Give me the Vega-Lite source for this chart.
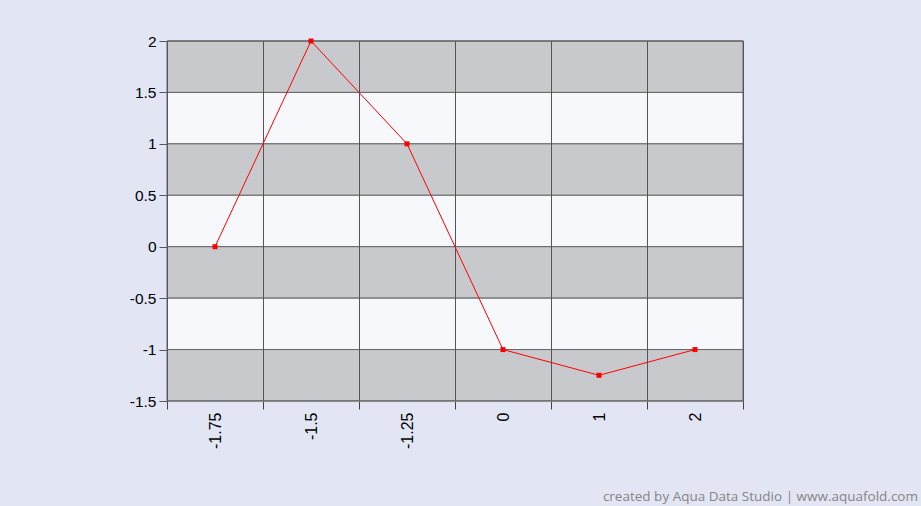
{
  "$schema": "https://vega.github.io/schema/vega-lite/v6.json",
  "autosize": {"type": "none"},
  "width": 576,
  "height": 360,
  "padding": {"left": 167, "top": 41, "right": 178, "bottom": 105},
  "background": "#e2e5f4",
  "config": {"view": {"stroke": "#555555", "strokeWidth": 1}},
  "title": {
    "text": "created by Aqua Data Studio | www.aquafold.com",
    "orient": "bottom",
    "anchor": "end",
    "frame": "group",
    "font": "Open Sans",
    "fontSize": 13.5,
    "fontWeight": "normal",
    "color": "#858585",
    "dx": 175,
    "dy": 38
  },
  "datasets": {
    "points": [
      {"cat": "-1.75", "val": 0},
      {"cat": "-1.5", "val": 2},
      {"cat": "-1.25", "val": 1},
      {"cat": "0", "val": -1},
      {"cat": "1", "val": -1.25},
      {"cat": "2", "val": -1}
    ],
    "bands": [
      {"lo": 1.5, "hi": 2, "shade": "dark"},
      {"lo": 1, "hi": 1.5, "shade": "light"},
      {"lo": 0.5, "hi": 1, "shade": "dark"},
      {"lo": 0, "hi": 0.5, "shade": "light"},
      {"lo": -0.5, "hi": 0, "shade": "dark"},
      {"lo": -1, "hi": -0.5, "shade": "light"},
      {"lo": -1.5, "hi": -1, "shade": "dark"}
    ]
  },
  "layer": [
    {
      "data": {"name": "bands"},
      "mark": {"type": "rect", "stroke": "#666666", "strokeWidth": 1},
      "encoding": {
        "y": {
          "field": "lo", "type": "quantitative", "title": null,
          "scale": {"domain": [-1.5, 2], "nice": false, "zero": false},
          "axis": {
            "values": [-1.5, -1, -0.5, 0, 0.5, 1, 1.5, 2], "labelExpr": "'' + datum.value",
            "tickSize": 8, "tickColor": "#555555", "domainColor": "#000000", "labelPadding": 3,
            "labelFont": "Liberation Sans", "labelFontSize": 15.5, "labelColor": "#000000", "grid": false, "title": null
          }
        },
        "y2": {"field": "hi"},
        "fill": {"field": "shade", "type": "nominal", "scale": {"domain": ["dark", "light"], "range": ["#c8c9cc", "#f7f8fc"]}, "legend": null}
      }
    },
    {
      "data": {"name": "points"},
      "mark": {"type": "rect", "fill": null, "fillOpacity": 0, "stroke": "#555555", "strokeWidth": 1, "xOffset": 0.5, "x2Offset": 0.5},
      "encoding": {
        "x": {
          "field": "cat", "type": "nominal", "sort": null, "title": null,
          "scale": {"paddingInner": 0, "paddingOuter": 0},
          "axis": {
            "tickBand": "extent", "tickSize": 8, "tickColor": "#444444", "domainColor": "#888888",
            "labelAngle": -90, "labelAlign": "right", "labelBaseline": "middle", "labelPadding": 3,
            "labelFont": "Liberation Sans", "labelFontSize": 16, "labelColor": "#000000", "grid": false, "title": null
          }
        }
      }
    },
    {
      "data": {"name": "points"},
      "mark": {"type": "line", "color": "#ff0000", "strokeWidth": 1},
      "encoding": {
        "x": {"field": "cat", "type": "nominal", "sort": null, "title": null},
        "y": {"field": "val", "type": "quantitative", "title": null}
      }
    },
    {
      "data": {"name": "points"},
      "mark": {"type": "point", "shape": "square", "filled": true, "color": "#ff0000", "size": 25, "opacity": 1},
      "encoding": {
        "x": {"field": "cat", "type": "nominal", "sort": null, "title": null},
        "y": {"field": "val", "type": "quantitative", "title": null}
      }
    }
  ]
}
